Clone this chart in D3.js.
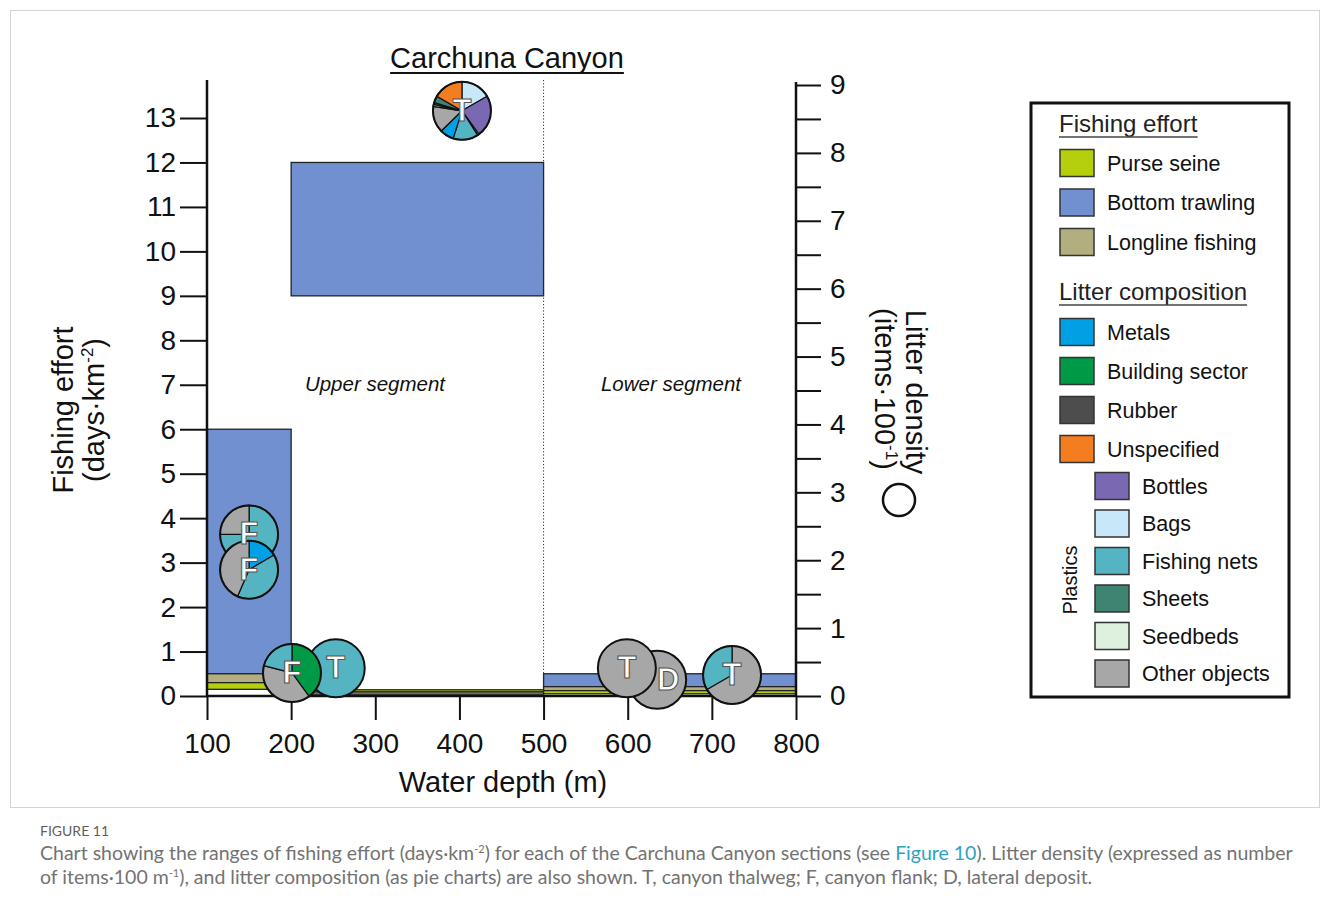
<!DOCTYPE html>
<html>
<head>
<meta charset="utf-8">
<script src="https://cdn.jsdelivr.net/npm/d3@7"></script>
<style>
  body { margin: 0; background: #fff; }
  svg { font-family: "Liberation Sans", Arial, sans-serif; }
</style>
</head>
<body>
<svg id="chart" width="1331" height="911"></svg>
<script>
// fishing effort ranges per canyon section (days/km2)
const gears = ["Purse seine", "Bottom trawling", "Longline fishing"];
const effortFrom = [100, 100, 100, 200, 200, 200, 500, 500, 500];
const effortTo = [200, 200, 200, 500, 500, 500, 800, 800, 800];
const effortGear = ["Bottom trawling", "Longline fishing", "Purse seine",
  "Bottom trawling", "Purse seine", "Longline fishing",
  "Bottom trawling", "Longline fishing", "Purse seine"];
const effortLow = [0.5, 0.3, 0.15, 9, 0.09, 0.04, 0.21, 0.12, 0.05];
const effortHigh = [6, 0.5, 0.3, 12, 0.14, 0.09, 0.5, 0.21, 0.12];

// litter categories
const metalsEtc = ["Metals", "Building sector", "Rubber", "Unspecified"];
const plastics = ["Bottles", "Bags", "Fishing nets", "Sheets", "Seedbeds", "Other objects"];

// litter stations: position (depth, density) and composition (clockwise from top)
const stationLabel = ["T", "F", "F", "T", "F", "D", "T", "T"];
const stationDepth = [403, 150, 150, 253, 201, 635, 599, 724];
const stationDensity = [8.62, 2.38, 1.86, 0.41, 0.34, 0.24, 0.41, 0.31];
const stationComp = [
  [["Bags", 16.7], ["Bottles", 23.3], ["Building sector", 1], ["Fishing nets", 13.9], ["Metals", 7.8],
   ["Other objects", 14.7], ["Seedbeds", 1.2], ["Rubber", 1], ["Sheets", 3.7], ["Unspecified", 16.7]],
  [["Fishing nets", 75], ["Other objects", 25]],
  [["Metals", 16.5], ["Fishing nets", 40], ["Other objects", 43.5]],
  [["Fishing nets", 100]],
  [["Building sector", 40], ["Other objects", 39], ["Fishing nets", 21]],
  [["Other objects", 100]],
  [["Other objects", 100]],
  [["Other objects", 66.7], ["Fishing nets", 33.3]]
];

const leftTicks = d3.range(0, 14);
const rightTicks = d3.range(0, 9.01, 0.5);
const depthTicks = d3.range(100, 801, 100);

const gearColor = d3.scaleOrdinal().domain(gears)
  .range(["#b5cf0c", "#7090cf", "#b3ae80"]);
const litterColor = d3.scaleOrdinal().domain(metalsEtc.concat(plastics))
  .range(["#00a0e4", "#009a46", "#4d4d4d", "#f47d20", "#7b68b3", "#c8e8fa", "#55b4c1", "#3f8373", "#ddf1de", "#a7a7a7"]);

const svg = d3.select("#chart");

// outer figure frame
svg.append("rect").attr("x", 10.5).attr("y", 10.5).attr("width", 1309).attr("height", 797)
  .attr("fill", "none").attr("stroke", "#d4d4d4");

const x = d3.scaleLinear().domain([100, 800]).range([207, 796]);
const yL = d3.scaleLinear().domain([0, 13]).range([696, 118]);
const yR = d3.scaleLinear().domain([0, 9]).range([696, 85]);

// fishing effort rectangles
svg.append("g").selectAll("rect")
  .data(effortGear.map((g, i) => ({ g, from: effortFrom[i], to: effortTo[i], lo: effortLow[i], hi: effortHigh[i] })))
  .join("rect")
  .attr("x", d => x(d.from))
  .attr("width", d => x(d.to) - x(d.from))
  .attr("y", d => yL(d.hi))
  .attr("height", d => yL(d.lo) - yL(d.hi))
  .attr("fill", d => gearColor(d.g))
  .attr("stroke", "#222")
  .attr("stroke-width", 1.3);

// dotted segment divider
svg.append("line")
  .attr("x1", x(500)).attr("x2", x(500))
  .attr("y1", 80).attr("y2", yL(0))
  .attr("stroke", "#333").attr("stroke-width", 1).attr("stroke-dasharray", "1.2,2");

// axes
const axisFont = (g) => g.selectAll("text").attr("font-size", 28).attr("fill", "#111")
  .attr("font-family", "'Liberation Sans', Arial, sans-serif");

const gl = svg.append("g").attr("transform", `translate(${x(100)},0)`)
  .call(d3.axisLeft(yL).tickValues(leftTicks).tickSize(27).tickPadding(4))
  .call(axisFont);
gl.select(".domain").remove();
gl.selectAll("line").attr("stroke", "#111").attr("stroke-width", 2);

const gr = svg.append("g").attr("transform", `translate(${x(800)},0)`)
  .call(d3.axisRight(yR).tickValues(rightTicks).tickSize(25).tickPadding(9)
    .tickFormat(d => Number.isInteger(d) ? d : ""))
  .call(axisFont);
gr.select(".domain").remove();
gr.selectAll("line").attr("stroke", "#111").attr("stroke-width", 2);

const gb = svg.append("g").attr("transform", `translate(0,${yL(0)})`)
  .call(d3.axisBottom(x).tickValues(depthTicks).tickSize(24).tickPadding(13))
  .call(axisFont);
gb.select(".domain").remove();
gb.selectAll("line").attr("stroke", "#111").attr("stroke-width", 2);

// axis lines
svg.append("line").attr("x1", x(100)).attr("x2", x(100)).attr("y1", 80).attr("y2", yL(0))
  .attr("stroke", "#111").attr("stroke-width", 2.5);
svg.append("line").attr("x1", x(800)).attr("x2", x(800)).attr("y1", 82).attr("y2", yL(0))
  .attr("stroke", "#111").attr("stroke-width", 2.5);
svg.append("line").attr("x1", x(100) - 1).attr("x2", x(800) + 1).attr("y1", yL(0)).attr("y2", yL(0))
  .attr("stroke", "#111").attr("stroke-width", 2.5);

// axis titles
svg.append("text").attr("x", 503).attr("y", 792).attr("text-anchor", "middle")
  .attr("font-size", 29).attr("fill", "#111").text("Water depth (m)");

const lt = svg.append("g").attr("transform", "translate(0,410) rotate(-90)");
lt.append("text").attr("x", 0).attr("y", 73).attr("text-anchor", "middle")
  .attr("font-size", 29).attr("fill", "#111").text("Fishing effort");
const lt2 = lt.append("text").attr("x", 0).attr("y", 104).attr("text-anchor", "middle")
  .attr("font-size", 29).attr("fill", "#111");
lt2.append("tspan").text("(days·km");
lt2.append("tspan").attr("dy", -11).attr("font-size", 17).text("-2");
lt2.append("tspan").attr("dy", 11).text(")");

const rt = svg.append("g").attr("transform", "translate(0,392) rotate(90)");
rt.append("text").attr("x", 0).attr("y", -906).attr("text-anchor", "middle")
  .attr("font-size", 29).attr("fill", "#111").text("Litter density");
const rt2 = rt.append("text").attr("x", -3).attr("y", -875).attr("text-anchor", "middle")
  .attr("font-size", 29).attr("fill", "#111");
rt2.append("tspan").text("(items·100");
rt2.append("tspan").attr("dy", -11).attr("font-size", 17).text("-1");
rt2.append("tspan").attr("dy", 11).text(")");
svg.append("circle").attr("cx", 899).attr("cy", 500).attr("r", 16)
  .attr("fill", "none").attr("stroke", "#111").attr("stroke-width", 2.5);

// chart title
const title = svg.append("text").attr("x", 507).attr("y", 68).attr("text-anchor", "middle")
  .attr("font-size", 29).attr("fill", "#111").text("Carchuna Canyon");
const tb = title.node().getBBox();
svg.append("line").attr("x1", tb.x).attr("x2", tb.x + tb.width).attr("y1", 73).attr("y2", 73)
  .attr("stroke", "#111").attr("stroke-width", 1.8);

// segment labels
svg.append("text").attr("x", 375).attr("y", 391).attr("text-anchor", "middle")
  .attr("font-size", 20.5).attr("font-style", "italic").attr("fill", "#111").text("Upper segment");
svg.append("text").attr("x", 671).attr("y", 391).attr("text-anchor", "middle")
  .attr("font-size", 20.5).attr("font-style", "italic").attr("fill", "#111").text("Lower segment");

// litter pies
const pie = d3.pie().sort(null).value(d => d[1]);
const arc = d3.arc().innerRadius(0).outerRadius(29);
const stations = stationLabel.map((l, i) => ({ l, depth: stationDepth[i], dens: stationDensity[i], comp: stationComp[i] }));
const pg = svg.append("g").selectAll("g").data(stations).join("g")
  .attr("transform", d => `translate(${x(d.depth)},${yR(d.dens)})`);
pg.selectAll("path").data(d => d.comp.length > 1 ? pie(d.comp) : []).join("path")
  .attr("d", arc)
  .attr("fill", d => litterColor(d.data[0]))
  .attr("stroke", "#111").attr("stroke-width", 1.2);
pg.filter(d => d.comp.length === 1).append("circle").attr("r", 29)
  .attr("fill", d => litterColor(d.comp[0][0]));
pg.append("circle").attr("r", 29).attr("fill", "none").attr("stroke", "#111").attr("stroke-width", 2);

// station letters on top; the D letter sits right of the T pie that overlaps it
const labelNudge = { D: 11 };
svg.append("g").selectAll("text").data(stations).join("text")
  .attr("x", d => x(d.depth) + (labelNudge[d.l] || 0))
  .attr("y", d => yR(d.dens) + 10)
  .attr("text-anchor", "middle")
  .attr("font-size", 31).attr("font-weight", "bold").attr("fill", "#fff")
  .attr("stroke", "#555").attr("stroke-width", 1.1)
  .text(d => d.l);

// legend
const lg = svg.append("g");
lg.append("rect").attr("x", 1031).attr("y", 103).attr("width", 258).attr("height", 594)
  .attr("fill", "#fff").attr("stroke", "#111").attr("stroke-width", 3);

function legendTitle(txt, yBase) {
  const t = lg.append("text").attr("x", 1059).attr("y", yBase).attr("font-size", 24)
    .attr("fill", "#222").text(txt);
  const b = t.node().getBBox();
  lg.append("line").attr("x1", b.x).attr("x2", b.x + b.width).attr("y1", yBase + 5).attr("y2", yBase + 5)
    .attr("stroke", "#444").attr("stroke-width", 1.5);
}
function legendItems(names, colorScale, x0, yStart, step) {
  const g = lg.append("g").selectAll("g").data(names).join("g")
    .attr("transform", (d, i) => `translate(${x0},${yStart + i * step})`);
  g.append("rect").attr("x", 0).attr("y", -13.5).attr("width", 34).attr("height", 27)
    .attr("fill", d => colorScale(d)).attr("stroke", "#333").attr("stroke-width", 1.5);
  g.append("text").attr("x", 47).attr("y", 7.5).attr("font-size", 21.5).attr("fill", "#111").text(d => d);
}
legendTitle("Fishing effort", 132);
legendItems(gears, gearColor, 1060, 163, 39.5);
legendTitle("Litter composition", 300);
legendItems(metalsEtc, litterColor, 1060, 332, 39);
legendItems(plastics, litterColor, 1095, 486, 37.5);
lg.append("text").attr("transform", "translate(1077,580) rotate(-90)").attr("text-anchor", "middle")
  .attr("font-size", 20).attr("fill", "#111").text("Plastics");

// caption
const cap = svg.append("g").style("font-family", "Lato, 'Open Sans', sans-serif");
cap.append("text").attr("x", 40).attr("y", 836).attr("font-size", 14).attr("fill", "#5f5f5f")
  .text("FIGURE 11");
const c1 = cap.append("text").attr("x", 40).attr("y", 860).attr("font-size", 17.5).attr("fill", "#737373");
c1.append("tspan").text("Chart showing the ranges of fishing effort (days·km");
c1.append("tspan").attr("dy", -7).attr("font-size", 11).text("-2");
c1.append("tspan").attr("dy", 7).text(") for each of the Carchuna Canyon sections (see ");
c1.append("tspan").attr("fill", "#2ba3c2").text("Figure 10");
c1.append("tspan").text("). Litter density (expressed as number");
const c2 = cap.append("text").attr("x", 40).attr("y", 884).attr("font-size", 17.5).attr("fill", "#737373");
c2.append("tspan").text("of items·100 m");
c2.append("tspan").attr("dy", -7).attr("font-size", 11).text("-1");
c2.append("tspan").attr("dy", 7).text("), and litter composition (as pie charts) are also shown. T, canyon thalweg; F, canyon flank; D, lateral deposit.");

// fit caption line width to the figure
const w1 = c1.node().getComputedTextLength();
const k = 1255 / w1;
c1.attr("font-size", 17.5 * k);
c2.attr("font-size", 17.5 * k);
</script>
</body>
</html>
